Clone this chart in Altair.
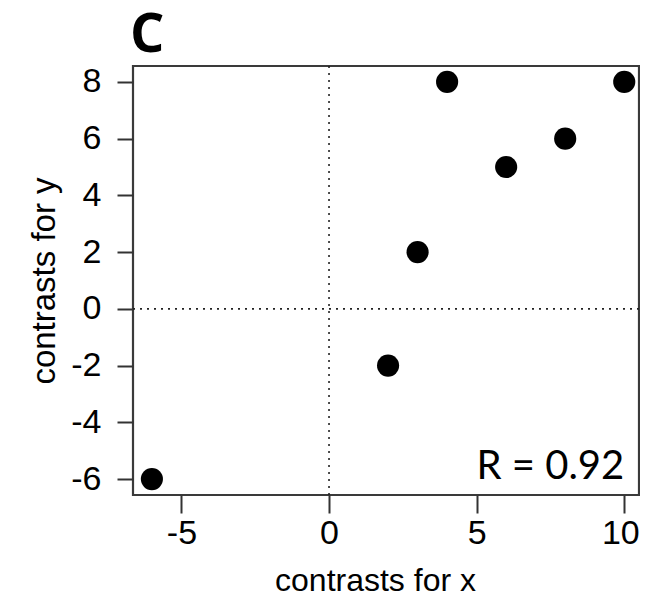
import altair as alt
import pandas as pd

# data
x_vals = [-6, 2, 3, 4, 6, 8, 10]
y_vals = [-6, -2, 2, 8, 5, 6, 8]
x_ticks = [-5, 0, 5, 10]
y_ticks = [-6, -4, -2, 0, 2, 4, 6, 8]
r_label = "R = 0.92"
panel_label = "C"

df = pd.DataFrame({"x": x_vals, "y": y_vals})
xs = alt.Scale(domain=[-6.64, 10.5], nice=False, zero=False)
ys = alt.Scale(domain=[-6.56, 8.56], nice=False, zero=False)

LAB = "Liberation Sans"

xaxis = alt.Axis(values=x_ticks, title="contrasts for x", domain=False, grid=False,
                 labelExpr="'' + datum.value",
                 labelAlign={"condition": {"test": "datum.value == 10", "value": "right"}, "value": "center"},
                 labelOffset={"condition": {"test": "datum.value == 10", "value": 15}, "value": 0},
                 labelBound=False, labelOverlap=False,
                 tickSize=18, tickWidth=2, tickColor="#333", labelFont=LAB,
                 labelFontSize=34, labelColor="black", labelPadding=3,
                 titleFont=LAB, titleFontSize=32, titleFontWeight="normal",
                 titleColor="black", titleBaseline="alphabetic", titleY=95,
                 titleX=242, titleAlign="center", titleAnchor="start")
yaxis = alt.Axis(values=y_ticks, title="contrasts for y", domain=False, grid=False,
                 labelExpr="'' + datum.value",
                 tickSize=16, tickWidth=2, tickColor="#333", labelFont=LAB,
                 labelFontSize=34, labelColor="black", labelPadding=16,
                 titleFont=LAB, titleFontSize=33, titleFontWeight="normal",
                 titleColor="black", titleBaseline="alphabetic", titleX=-79)

zero_df = pd.DataFrame({"v": [0]})

pts = alt.Chart(df).mark_circle(size=490, color="black", opacity=1).encode(
    x=alt.X("x:Q", scale=xs, axis=xaxis),
    y=alt.Y("y:Q", scale=ys, axis=yaxis),
)

vline = alt.Chart(zero_df).mark_rule(color="#222", strokeDash=[2, 5], strokeWidth=1.6).encode(
    x=alt.X("v:Q", scale=xs)
)
hline = alt.Chart(zero_df).mark_rule(color="#222", strokeDash=[2, 5], strokeWidth=1.6).encode(
    y=alt.Y("v:Q", scale=ys)
)

rtext = alt.Chart(pd.DataFrame({"x": [10], "y": [-6], "t": [r_label]})).mark_text(
    align="right", baseline="alphabetic", font="Lato", fontSize=40, color="black"
).encode(x=alt.X("x:Q", scale=xs), y=alt.Y("y:Q", scale=ys), text="t:N")

ctext = alt.Chart(pd.DataFrame({"t": [panel_label]})).mark_text(
    align="left", baseline="alphabetic", font="Open Sans", fontWeight="bold",
    fontSize=54, color="black"
).encode(x=alt.value(-3), y=alt.value(-14), text="t:N")

chart = alt.layer(vline, hline, pts, rtext, ctext).properties(
    width=506, height=429,
    background="white",
    autosize=alt.AutoSizeParams(type="none"),
    padding={"left": 125, "top": 58, "right": 1, "bottom": 110},
).configure_view(stroke="#3a3a3a", strokeWidth=2.2)

chart.save("out.html", embed_options={"renderer": "svg", "actions": False})
